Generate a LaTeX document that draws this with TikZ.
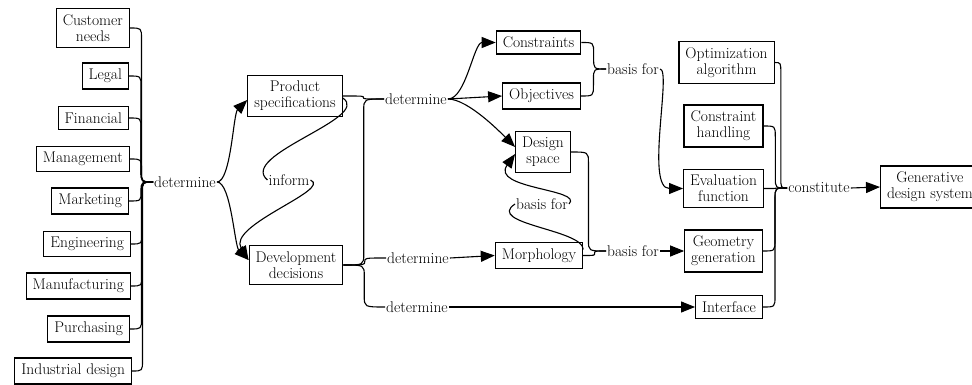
\documentclass[tikz,border=0pt]{standalone}
\usepackage{fontspec}
\usetikzlibrary{arrows.meta,calc}

\tikzset{
  box/.style={draw, line width=1.1pt, inner xsep=6.5pt, inner ysep=6pt, align=center},
  lbl/.style={inner sep=1pt},
  link/.style={line width=1.1pt},
  arr/.style={link, -{Triangle[length=14pt,width=11pt]}},
  bundle/.style={to path={let \p1=(\tikztostart), \p2=(\tikztotarget),
      \n1={(\x1+\x2)/2}, \n2={min(11pt, abs(\y2-\y1)/2)*sign(\y2-\y1)} in
      .. controls (\n1,\y1) .. (\n1,\y1+\n2) -- (\n1,\y2-\n2)
      .. controls (\n1,\y2) .. (\tikztotarget)}},
}

\begin{document}
\begin{tikzpicture}[x=1pt,y=-1pt,font=\fontsize{15.5}{16}\selectfont]
			\useasboundingbox (0,0) rectangle (972,385);
			%stakeholders
			\node (cn) at (130,28) [box,anchor=east]{Customer\\needs};
			\node (leg) at (129,76) [box,anchor=east]{Legal};
			\node (fin) at (129,118) [box,anchor=east]{Financial};
			\node (man) at (130,159) [box,anchor=east]{Management};
			\node (mkt) at (129,201) [box,anchor=east]{Marketing};
			\node (eng) at (131,244) [box,anchor=east]{Engineering};
			\node (mfg) at (131,286) [box,anchor=east]{Manufacturing};
			\node (pur) at (130,329) [box,anchor=east]{Purchasing};
			\node (ind) at (132,371) [box,anchor=east]{Industrial design};
			\node (det1) at (185,182) [lbl]{determine};
			\foreach \n in {cn, leg, fin, man, mkt, eng, mfg, pur, ind}{
				\draw[link] (\n.east) to[bundle] (det1.west);
			}
			
			%product and development
			\node (ps) at (295,96) [box]{Product\\specifications};
			\node (dd) at (296,265) [box]{Development\\decisions};
			\node (inf) at (289,180) [lbl]{inform};
			\draw[arr] (det1.east) .. controls +(14,0) and +(-14,14) .. ([yshift=-4pt]ps.west);
			\draw[arr] (det1.east) .. controls +(14,0) and +(-14,-14) .. ([yshift=5pt]dd.west);
			\draw[link] ([yshift=-2pt]ps.east) .. controls +(30,20) and +(-30,-25) .. (inf.west);
			\draw[arr] (inf.east) .. controls +(22,10) and +(-22,-35) .. ([yshift=5pt]dd.west);
			
			%design problem
			\node (det2) at (416,99) [lbl]{determine};
			\node (cons) at (538.5,42.5) [box]{Constraints};
			\node (obj) at (541.5,96) [box]{Objectives};
			\node (ds) at (543,152) [box]{Design\\space};
			\node (bas1) at (633,69) [lbl]{basis for};
			\draw[link] (ps.east) to[bundle] (det2.west);
			\draw[link] (dd.east) to[bundle] (det2.west);
			\draw[arr] (det2.east) .. controls +(18,0) and +(-22,0) .. (cons.west);
			\draw[arr] (det2.east) -- (obj.west);
			\draw[arr] (det2.east) .. controls +(20,0) and +(-14,-14) .. ([yshift=5pt]ds.west);
			\draw[link] (cons.east) to[bundle] (bas1.west);
			\draw[link] (obj.east) to[bundle] (bas1.west);
			
			%morphology and interface
			\node (det3) at (418,258) [lbl]{determine};
			\node (det4) at (417,307) [lbl]{determine};
			\node (mor) at (539,255.5) [box]{Morphology};
			\node (bas2) at (542,204) [lbl]{basis for};
			\node (bas3) at (633,251) [lbl]{basis for};
			\draw[link] (dd.east) to[bundle] (det3.west);
			\draw[link] (dd.east) to[bundle] (det4.west);
			\draw[arr] (det3.east) -- (mor.west);
			\draw[link] ([yshift=6pt]mor.east) .. controls +(0,-20) and +(-30,20) .. (bas2.west);
			\draw[arr] (bas2.east) .. controls +(15,-15) and +(-25,35) .. ([yshift=-2pt]ds.west);
			\draw[link] (ds.east) to[bundle] (bas3.west);
			\draw[link] (mor.east) to[bundle] (bas3.west);
			
			%generative design system
			\node (opt) at (726.5,62.5) [box]{Optimization\\algorithm};
			\node (ch) at (723.5,126) [box]{Constraint\\handling};
			\node (ev) at (723.5,188.5) [box]{Evaluation\\function};
			\node (gg) at (723.5,251) [box]{Geometry\\generation};
			\node (itf) at (729,307) [box]{Interface};
			\node (con) at (819,188) [lbl]{constitute};
			\node (gds) at (880,187) [box,anchor=west]{Generative\\design system};
			\draw[arr] (bas1.east) .. controls +(12,0) and +(-38,0) .. (ev.west);
			\draw[arr] (bas3.east) -- (gg.west);
			\draw[arr] (det4.east) -- (itf.west);
			\foreach \n in {opt, ch, ev, gg, itf}{
				\draw[link] (\n.east) to[bundle] (con.west);
			}
			\draw[arr] (con.east) -- (gds.west);
		\end{tikzpicture}
\end{document}
